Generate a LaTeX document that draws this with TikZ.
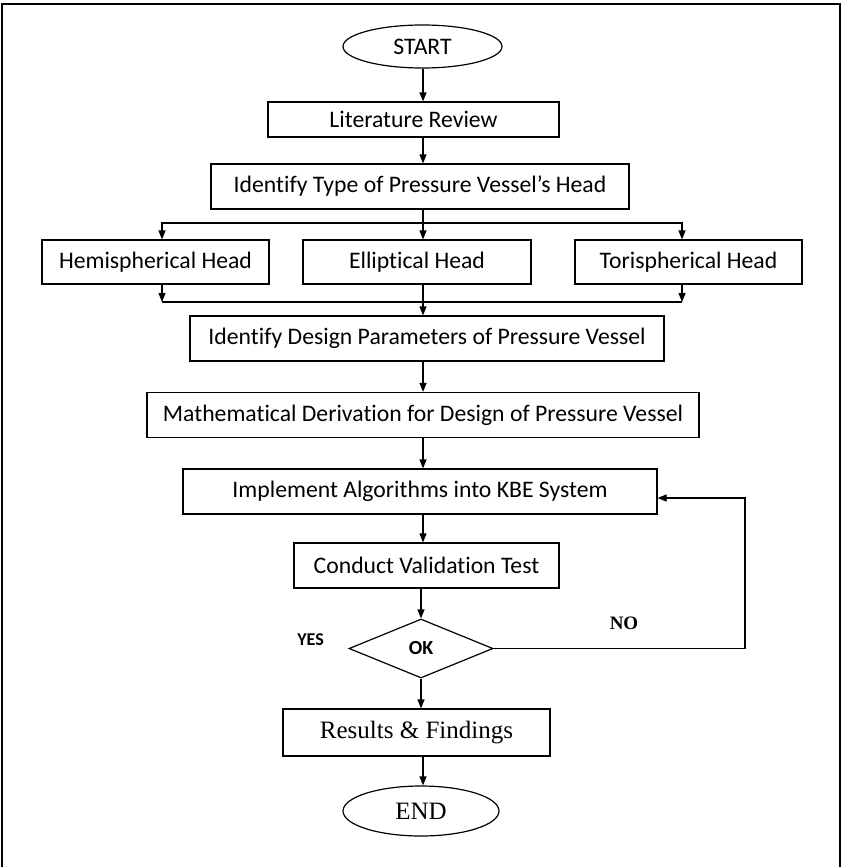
\documentclass[tikz,border=0pt]{standalone}
\usepackage{fontspec}
\setmainfont{Carlito}[Ligatures={NoCommon}]
\newfontfamily\serifface{Liberation Serif}
\usetikzlibrary{shapes.geometric,arrows.meta}

\begin{document}
\begin{tikzpicture}[x=1pt,y=-1pt,
  line width=1.2pt,
  >={Triangle[length=9pt,width=7pt]},
  every node/.style={font=\fontsize{23.7}{28}\selectfont},
  procbox/.style 2 args={draw, rectangle, minimum width=#1pt, minimum height=#2pt, inner sep=0pt},
  terminal/.style 2 args={draw, ellipse, minimum width=#1pt, minimum height=#2pt, inner sep=0pt},
  decision/.style 2 args={draw, diamond, minimum width=#1pt, minimum height=#2pt, inner sep=0pt},
  serifnode/.style={font=\serifface\fontsize{25}{29}\selectfont},
  tag/.style={font=\bfseries\fontsize{18}{21}\selectfont}]

\useasboundingbox (0,0) rectangle (842,867);
% page frame, open at the bottom
\draw[line width=1.8pt] (2,870) -- (2,4) -- (840,4) -- (840,870);

% main column
\coordinate (spine) at (423,0);
\node[terminal={159}{43}] (start) at (422.5,46.5) {START};
\node[procbox={291}{35}] (lit) at (413.5,119.5) {Literature Review};
\node[procbox={418}{45}] (idt) at (420,186.5) {Identify Type of Pressure Vessel’s Head};

% head types
\node[procbox={227}{44}] (hemi) at (155.5,262) {Hemispherical Head};
\node[procbox={228}{44}] (ell) at (417,262) {Elliptical Head};
\node[procbox={227}{44}] (tori) at (688.5,262) {Torispherical Head};

\node[procbox={474}{45}] (idd) at (427,338.5) {Identify Design Parameters of Pressure Vessel};
\node[procbox={552}{45}] (math) at (423,415) {Mathematical Derivation for Design of Pressure Vessel};
\node[procbox={474}{45}] (impl) at (420,491.5) {Implement Algorithms into KBE System};
\node[procbox={265}{45}] (cond) at (426.5,565.5) {Conduct Validation Test};
\node[decision={144}{59}] (ok) at (421,648.5) {\bfseries\fontsize{20}{24}\selectfont OK};
\node[procbox={267}{47}, serifnode] (res) at (416.5,732.5) {Results \& Findings};
\node[terminal={156}{50}, serifnode] (end) at (421,811) {END};

\node[tag] (yes) at (310.5,640) {YES};
\node[tag, font=\serifface\bfseries\fontsize{19}{22}\selectfont] (no) at (624,623) {NO};

% connectors
\draw[->] (start.south -| spine) -- (spine |- lit.north);
\draw[->] (lit.south -| spine) -- (spine |- idt.north);

\coordinate (split) at (423,223);
\coordinate (merge) at (423,302);
\coordinate (leftdrop) at (162,0);
\coordinate (rightdrop) at (682,0);
\draw (idt.south -| split) -- (split);
\draw[->] (split) -| (leftdrop |- hemi.north);
\draw[->] (split) -| (rightdrop |- tori.north);
\draw[->] (split) -- (split |- ell.north);
\draw[->] (leftdrop |- hemi.south) -- (leftdrop |- merge);
\draw[->] (rightdrop |- tori.south) -- (rightdrop |- merge);
\draw (leftdrop |- merge) -- (rightdrop |- merge);
\draw[->] (ell.south -| merge) -- (merge |- idd.north);

\draw[->] (idd.south -| spine) -- (spine |- math.north);
\draw[->] (math.south -| spine) -- (spine |- impl.north);
\draw[->] (impl.south -| spine) -- (spine |- cond.north);
\draw[->] (cond.south -| ok.north) -- (ok.north);
\draw[->] (ok.south) -- (ok.south |- res.north);
\draw[->] (res.south -| spine) -- (spine |- end.north);

\coordinate (loopx) at (745,0);
\coordinate (loopin) at ([yshift=-6.5pt]impl.east);
\draw[->] (ok.east) -| (loopx |- loopin) -- (loopin);
\end{tikzpicture}
\end{document}
